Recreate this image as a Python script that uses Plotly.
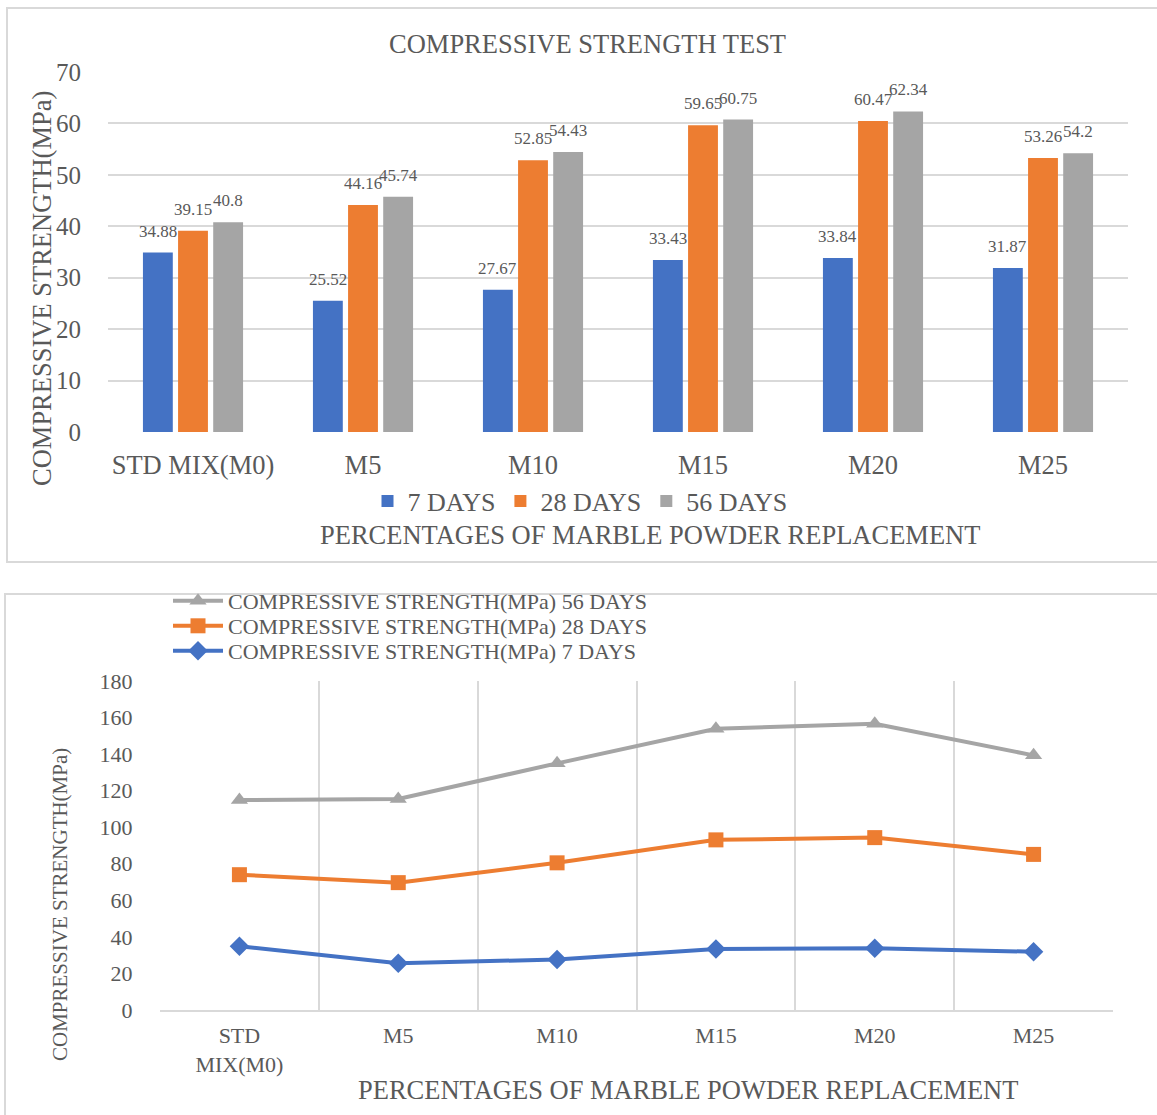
import plotly.graph_objects as go

# ---------------- data ----------------
categories = ["STD MIX(M0)", "M5", "M10", "M15", "M20", "M25"]
line_categories = ["STD<br>MIX(M0)", "M5", "M10", "M15", "M20", "M25"]
days7 = [34.88, 25.52, 27.67, 33.43, 33.84, 31.87]
days28 = [39.15, 44.16, 52.85, 59.65, 60.47, 53.26]
days56 = [40.8, 45.74, 54.43, 60.75, 62.34, 54.2]
bar_names = ["7 DAYS", "28 DAYS", "56 DAYS"]
line_names = ["COMPRESSIVE STRENGTH(MPa) 7 DAYS",
              "COMPRESSIVE STRENGTH(MPa) 28 DAYS",
              "COMPRESSIVE STRENGTH(MPa) 56 DAYS"]
top_ticks = [0, 10, 20, 30, 40, 50, 60, 70]
bottom_ticks = [0, 20, 40, 60, 80, 100, 120, 140, 160, 180]

# stacked (cumulative) values for the stacked line chart
stack28 = [a + b for a, b in zip(days7, days28)]
stack56 = [a + b for a, b in zip(stack28, days56)]

# ---------------- style ----------------
W, H = 1157, 1115
FONT = "Liberation Serif"
TXT = "#595959"
GRID = "#D9D9D9"
COLORS = ["#4472C4", "#ED7D31", "#A5A5A5"]
TOPF = 26.5
PLOT1_L, PLOT1_R = 108, 1128
BARGAP = 0.38
BARGROUPGAP = 0.15


def px(x):
    return x / W


def py(y):
    return 1 - y / H


fig = go.Figure()

# ---------- top: clustered bar chart ----------
series_bar = [days7, days28, days56]
for name, vals, col in zip(bar_names, series_bar, COLORS):
    fig.add_trace(go.Bar(
        x=categories, y=vals, name=name, marker_color=col,
        marker_line_width=0,
        xaxis="x", yaxis="y", legend="legend",
    ))

# data labels (placed above each bar of its group slot)
cat_w = (PLOT1_R - PLOT1_L) / len(categories)
slot_w = cat_w * (1 - BARGAP) / len(series_bar)
label_ann = []
for i, vals in enumerate(series_bar):
    shift = (i - (len(series_bar) - 1) / 2) * slot_w
    for c, v in zip(categories, vals):
        label_ann.append(dict(
            x=c, y=v, xref="x", yref="y", text=f"{v:g}", showarrow=False,
            xanchor="center", yanchor="bottom", xshift=shift, yshift=10,
            font=dict(family=FONT, size=17, color=TXT),
        ))

# ---------- bottom: stacked line chart ----------
markers = ["diamond", "square", "triangle-up"]
legend_ids = ["legend4", "legend3", "legend2"]
for name, vals, col, sym, lg in zip(line_names, [days7, stack28, stack56],
                                     COLORS, markers, legend_ids):
    fig.add_trace(go.Scatter(
        x=line_categories, y=vals, name=name, mode="lines+markers",
        line=dict(color=col, width=4),
        marker=dict(symbol=sym, size=15, color=col),
        xaxis="x2", yaxis="y2", legend=lg, cliponaxis=False,
    ))

tickfont_top = dict(family=FONT, size=TOPF, color=TXT)
tickfont_topy = dict(family=FONT, size=25, color=TXT)
tickfont_bot = dict(family=FONT, size=22, color=TXT)

fig.update_layout(
    width=W, height=H,
    margin=dict(l=0, r=0, t=0, b=0, pad=0, autoexpand=False),
    paper_bgcolor="white", plot_bgcolor="white",
    font=dict(family=FONT, color=TXT),
    barmode="group", bargap=BARGAP, bargroupgap=BARGROUPGAP,
    xaxis=dict(domain=[px(PLOT1_L), px(PLOT1_R)], anchor="y", automargin=False,
               tickfont=tickfont_top, showgrid=False, showline=False,
               ticks="outside", ticklen=9, tickcolor="rgba(0,0,0,0)",
               zeroline=False),
    yaxis=dict(domain=[py(432), py(72)], anchor="x", range=[0, 70],
               automargin=False,
               tickvals=top_ticks, tickfont=tickfont_topy,
               showgrid=True, gridcolor=GRID, gridwidth=2,
               zeroline=False, showline=False,
               ticks="outside", ticklen=21, tickcolor="rgba(0,0,0,0)"),
    xaxis2=dict(domain=[px(160), px(1113)], anchor="y2", automargin=False,
                tickfont=tickfont_bot, tickson="boundaries",
                range=[-0.5, 5.5],
                showgrid=True, gridcolor=GRID, gridwidth=2,
                showline=True, linecolor=GRID, linewidth=2,
                ticks="", ticklabelstandoff=5,
                zeroline=False),
    yaxis2=dict(domain=[py(1010), py(681)], anchor="x2", range=[0, 180],
                automargin=False,
                tickvals=bottom_ticks, tickfont=tickfont_bot,
                showgrid=False, zeroline=False, showline=False,
                ticks="outside", ticklen=22, tickcolor="rgba(0,0,0,0)"),
    legend=dict(orientation="h", x=px(580), xanchor="center",
                y=py(501), yanchor="middle",
                font=dict(family=FONT, size=26, color=TXT),
                bgcolor="rgba(0,0,0,0)", itemwidth=30,
                tracegroupgap=0),
)

# three single-entry legends so the tight line spacing of the reference is kept
for lg, ycen in zip(["legend2", "legend3", "legend4"], [601, 626, 651]):
    fig.update_layout({lg: dict(
        x=px(168), xanchor="left", y=py(ycen), yanchor="middle",
        font=dict(family=FONT, size=22, color=TXT),
        bgcolor="rgba(0,0,0,0)", itemwidth=50,
    )})

# titles as annotations
annotations = [
    dict(text="COMPRESSIVE STRENGTH TEST", x=px(587), y=py(44),
         font=dict(family=FONT, size=TOPF, color=TXT)),
    dict(text="COMPRESSIVE STRENGTH(MPa)", x=px(42), y=py(289), textangle=-90,
         font=dict(family=FONT, size=TOPF, color=TXT)),
    dict(text="PERCENTAGES OF MARBLE POWDER REPLACEMENT", x=px(650), y=py(535),
         font=dict(family=FONT, size=TOPF, color=TXT)),
    dict(text="COMPRESSIVE STRENGTH(MPa)", x=px(60), y=py(905), textangle=-90,
         font=dict(family=FONT, size=21, color=TXT)),
    dict(text="PERCENTAGES OF MARBLE POWDER REPLACEMENT", x=px(688), y=py(1090),
         font=dict(family=FONT, size=26.5, color=TXT)),
]
for a in annotations:
    a.update(xref="paper", yref="paper", showarrow=False,
             xanchor="center", yanchor="middle")
fig.update_layout(annotations=annotations + label_ann)

# chart borders
fig.add_shape(type="rect", xref="paper", yref="paper",
              x0=px(7), x1=px(1175), y0=py(562), y1=py(8),
              line=dict(color=GRID, width=2), layer="below")
fig.add_shape(type="rect", xref="paper", yref="paper",
              x0=px(5), x1=px(1175), y0=py(1130), y1=py(594),
              line=dict(color=GRID, width=2), layer="below")

fig.write_html("out.html")
